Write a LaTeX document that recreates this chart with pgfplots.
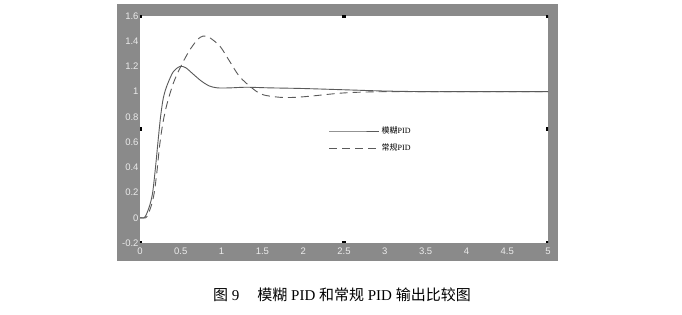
\documentclass[border=0pt]{standalone}
\usepackage{fontspec}
\setmainfont{Liberation Serif}
\setsansfont{Liberation Sans}
\newfontfamily\cjk{Noto Sans CJK SC}
\usepackage{pgfplots}
\pgfplotsset{compat=1.18}
\definecolor{bggray}{RGB}{138,138,138}
\definecolor{linegray}{RGB}{90,90,90}
\definecolor{ticklab}{RGB}{235,235,235}
\newcommand{\handle}[2]{\fill[black] ([xshift=-2pt,yshift=-2pt]axis description cs:#1,#2) rectangle ([xshift=2pt,yshift=2pt]axis description cs:#1,#2);}
\begin{document}
\begin{tikzpicture}[x=1pt,y=1pt]
\useasboundingbox (0,0) rectangle (682,315);
\fill[bggray] (117,54) rectangle (558,311);
\begin{axis}[
  at={(140pt,72pt)}, anchor=south west,
  scale only axis, width=408pt, height=227pt,
  xmin=0, xmax=5, ymin=-0.2, ymax=1.6,
  xtick={0,0.5,...,5}, ytick={-0.2,0,...,1.6},
  xticklabels={0,0.5,1,1.5,2,2.5,3,3.5,4,4.5,5},
  yticklabels={-0.2,0,0.2,0.4,0.6,0.8,1,1.2,1.4,1.6},
  major tick length=0pt,
  axis line style={draw=none},
  axis background/.style={fill=white},
  tick label style={font=\sffamily\fontsize{9.5}{10}\selectfont, text=ticklab},
  /pgf/number format/assume math mode=true,
  xticklabel style={yshift=-1pt},
  yticklabel style={xshift=2pt},
  legend style={at={(axis description cs:0.455,0.53)}, anchor=north west, draw=none, fill=none,
    font=\fontsize{8}{8.5}\selectfont, row sep=5pt},
  legend cell align=left,
  legend image code/.code={\draw[#1] (0pt,0pt) -- (25pt,0pt) -- (50pt,0pt);},
]
\addplot[linegray, line width=0.9pt, smooth] coordinates {
(0,0) (0.05,0.0) (0.08,0.03) (0.12,0.1) (0.155,0.2) (0.19,0.4) (0.22,0.6) (0.25,0.79)
(0.28,0.93) (0.31,1.01) (0.35,1.08) (0.41,1.16) (0.49,1.2) (0.56,1.19) (0.65,1.14)
(0.75,1.085) (0.85,1.045) (0.95,1.03) (1.1,1.03) (1.3,1.035) (1.6,1.03) (2.0,1.025)
(2.5,1.015) (3.0,1.005) (3.5,1.0) (4.0,1.0) (5.0,1.0)
};
\addlegendentry{{\cjk 模糊}PID}
\addplot[linegray, line width=0.9pt, dash pattern=on 8pt off 5pt, smooth] coordinates {
(0,0) (0.07,0.0) (0.1,0.03) (0.14,0.1) (0.175,0.2) (0.21,0.38) (0.24,0.57) (0.28,0.75)
(0.33,0.9) (0.41,1.07) (0.5,1.2) (0.6,1.32) (0.7,1.41) (0.77,1.44) (0.85,1.43)
(0.98,1.36) (1.08,1.26) (1.22,1.12) (1.39,1.02) (1.51,0.975) (1.72,0.955) (1.9,0.955)
(2.1,0.965) (2.5,0.99) (3.0,1.0) (4.0,1.0) (5.0,1.0)
};
\addlegendentry{{\cjk 常规}PID}
\handle{0}{0}\handle{0.5}{0}\handle{1}{0}\handle{0}{0.5}
\handle{1}{0.5}\handle{0}{1}\handle{0.5}{1}\handle{1}{1}
\end{axis}
\node at (342,20) {\fontsize{15}{16}\selectfont{\cjk 图} 9\hspace{1.2em}{\cjk 模糊} PID {\cjk 和常规} PID {\cjk 输出比较图}};
\end{tikzpicture}
\end{document}
